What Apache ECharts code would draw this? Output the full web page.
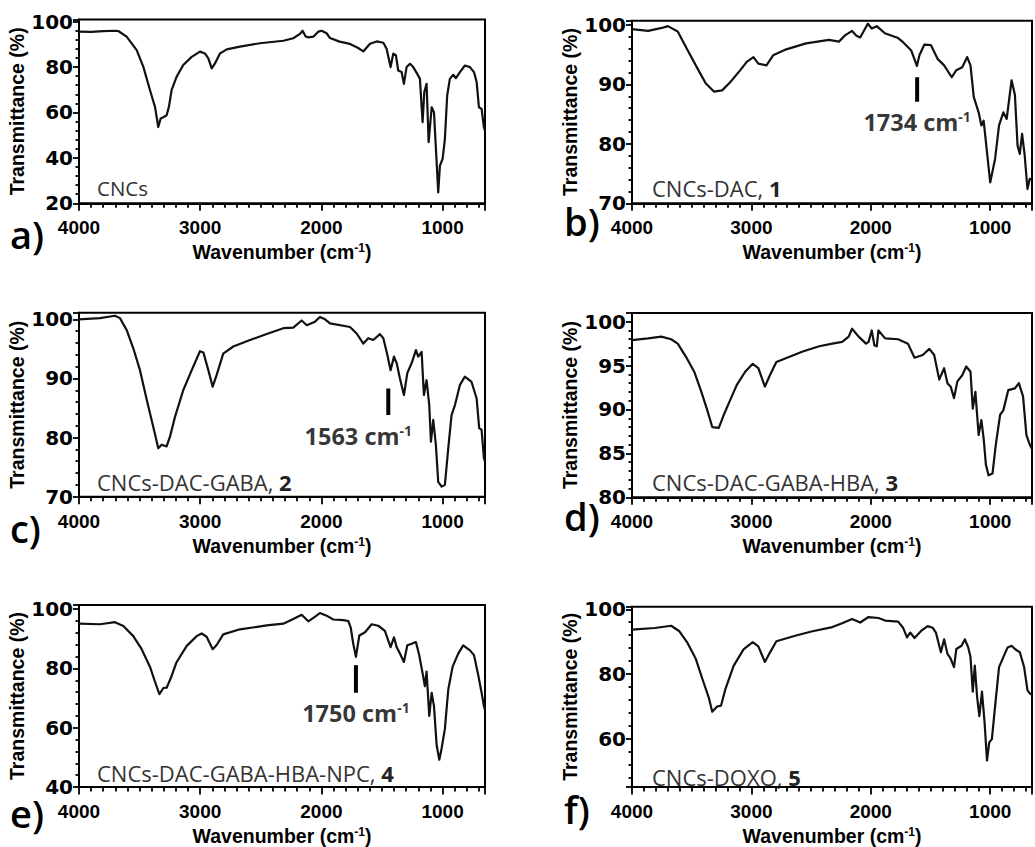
<!DOCTYPE html>
<html><head><meta charset="utf-8">
<script src="https://cdn.jsdelivr.net/npm/echarts@6/dist/echarts.min.js"></script>
<style>html,body{margin:0;padding:0;background:#fff}#c{width:1035px;height:847px}</style>
</head><body><div id="c"></div>
<script>
// ---------- DATA ----------
const xMajorTicks = [1000, 2000, 3000, 4000];

const yMajorA = [20, 40, 60, 80, 100];
const yMajorB = [70, 80, 90, 100];
const yMajorC = [70, 80, 90, 100];
const yMajorD = [80, 85, 90, 95, 100];
const yMajorE = [40, 60, 80, 100];
const yMajorF = [60, 80, 100];

const sampleNames = ['CNCs', 'CNCs-DAC, {b|1}', 'CNCs-DAC-GABA, {b|2}', 'CNCs-DAC-GABA-HBA, {b|3}', 'CNCs-DAC-GABA-HBA-NPC, {b|4}', 'CNCs-DOXO, {b|5}'];
const panelLetters = ['a)', 'b)', 'c)', 'd)', 'e)', 'f)'];

// spectra: [wavenumber (cm-1), transmittance (%)]
const spectrumA = [[4000,95.6],[3900,95.5],[3800,95.8],[3700,96.0],[3676,95.9],[3607,93.4],[3524,87.5],[3469,80.1],[3414,69.8],[3373,62.5],[3346,53.6],[3326,57.4],[3300,58.0],[3277,58.8],[3258,62.5],[3236,69.8],[3195,75.7],[3140,80.9],[3070,84.5],[3002,86.8],[2961,86.0],[2933,83.8],[2905,79.4],[2878,81.6],[2837,86.0],[2781,87.8],[2672,89.0],[2507,90.5],[2314,91.6],[2232,92.7],[2177,94.6],[2155,96.0],[2130,93.5],[2108,93.1],[2067,93.4],[2026,95.6],[1998,96.0],[1957,94.9],[1929,92.8],[1850,91.2],[1764,90.2],[1700,88.5],[1654,86.9],[1599,90.3],[1544,91.3],[1489,90.7],[1462,88.1],[1429,80.0],[1407,85.9],[1385,85.2],[1366,78.5],[1338,77.8],[1319,72.6],[1297,80.0],[1269,81.5],[1242,80.0],[1209,77.0],[1187,74.8],[1165,55.7],[1151,69.0],[1132,72.6],[1115,46.9],[1090,62.3],[1071,60.1],[1049,38.1],[1036,24.8],[1022,36.6],[1000,39.5],[981,48.3],[962,67.5],[940,74.8],[912,76.6],[890,75.1],[857,77.8],[816,80.7],[774,80.0],[741,77.8],[719,73.4],[700,62.3],[678,61.6],[659,53.5],[650,52.0]];
const spectrumB = [[4000,99.3],[3865,99.0],[3750,99.5],[3700,99.8],[3617,98.9],[3535,95.8],[3452,92.7],[3383,90.2],[3314,88.8],[3245,89.0],[3176,90.4],[3093,92.4],[3039,93.8],[2983,94.6],[2942,93.5],[2874,93.2],[2818,94.9],[2708,95.9],[2543,96.9],[2350,97.5],[2267,97.2],[2213,98.3],[2157,99.0],[2120,98.2],[2089,97.9],[2025,100.2],[1992,99.4],[1950,99.8],[1882,98.6],[1841,98.3],[1771,97.8],[1730,97.1],[1661,95.7],[1614,93.1],[1593,94.9],[1551,96.7],[1496,96.6],[1441,94.3],[1386,93.2],[1322,91.2],[1284,92.4],[1234,92.9],[1193,94.6],[1165,93.2],[1138,87.9],[1097,85.3],[1074,83.1],[1055,83.9],[1027,78.6],[1000,73.5],[959,77.5],[926,83.1],[890,85.3],[862,84.2],[821,90.7],[793,88.2],[771,79.7],[752,78.3],[733,81.7],[711,78.0],[688,72.4],[669,74.1],[650,74.0]];
const spectrumC = [[4000,100.0],[3827,100.2],[3703,100.6],[3662,100.2],[3607,98.2],[3552,95.1],[3497,91.4],[3441,86.4],[3387,81.8],[3346,78.2],[3318,78.8],[3277,78.5],[3250,80.1],[3208,83.5],[3140,88.0],[3070,91.4],[3002,94.6],[2974,94.4],[2933,91.4],[2897,88.6],[2864,90.6],[2810,94.2],[2727,95.4],[2589,96.5],[2451,97.5],[2314,98.5],[2232,98.6],[2163,99.8],[2121,99.0],[2053,99.6],[2012,100.4],[1970,100.0],[1929,99.3],[1764,98.7],[1709,97.6],[1654,95.9],[1613,96.8],[1572,96.5],[1517,97.5],[1489,96.8],[1456,94.0],[1429,91.4],[1401,93.7],[1379,92.6],[1352,90.0],[1319,87.2],[1291,90.9],[1255,92.6],[1220,94.8],[1201,93.7],[1173,94.5],[1154,87.2],[1132,89.7],[1110,85.5],[1096,79.3],[1077,83.0],[1055,78.7],[1036,72.5],[1008,71.7],[981,72.0],[953,78.2],[926,83.8],[898,85.5],[857,88.9],[816,90.3],[761,89.4],[719,86.6],[698,81.6],[678,81.3],[659,76.5],[650,76.0]];
const spectrumD = [[4000,97.9],[3865,98.1],[3755,98.3],[3672,98.0],[3617,97.5],[3548,96.0],[3479,94.3],[3424,92.2],[3369,89.9],[3328,88.0],[3273,87.9],[3237,89.2],[3190,90.7],[3122,92.8],[3052,94.3],[2989,95.2],[2942,94.7],[2887,92.6],[2845,93.9],[2791,95.4],[2680,96.0],[2570,96.6],[2432,97.2],[2322,97.5],[2240,97.7],[2185,98.3],[2157,99.2],[2102,98.3],[2040,97.5],[2019,97.7],[1992,99.0],[1970,97.3],[1950,97.2],[1936,99.0],[1880,98.1],[1771,98.0],[1689,97.5],[1634,95.9],[1565,96.2],[1510,96.9],[1469,96.2],[1427,93.4],[1386,94.7],[1358,93.0],[1331,92.6],[1303,91.3],[1275,93.2],[1234,93.9],[1201,94.9],[1165,94.3],[1146,90.1],[1124,92.0],[1097,87.1],[1074,88.8],[1055,86.7],[1036,83.7],[1014,82.5],[981,82.7],[953,86.0],[917,89.4],[890,89.9],[849,92.2],[793,92.4],[760,93.0],[725,91.5],[697,87.1],[669,86.0],[650,85.5]];
const spectrumE = [[4000,95.1],[3827,94.9],[3703,95.6],[3634,94.3],[3552,90.9],[3483,86.5],[3414,80.5],[3373,75.5],[3337,71.3],[3304,73.4],[3277,73.5],[3244,76.6],[3195,82.1],[3111,87.6],[3029,90.9],[2988,91.8],[2947,90.7],[2897,86.5],[2864,87.9],[2810,91.5],[2672,93.2],[2451,94.5],[2314,95.1],[2232,96.7],[2163,98.1],[2108,95.9],[2040,97.8],[2012,98.7],[1957,97.8],[1902,96.5],[1819,96.3],[1778,96.0],[1758,93.8],[1737,88.3],[1715,83.9],[1687,91.1],[1640,92.2],[1585,94.9],[1531,94.4],[1476,92.7],[1429,87.2],[1401,90.5],[1379,87.2],[1346,84.5],[1319,82.2],[1291,87.8],[1255,88.3],[1220,88.9],[1193,84.5],[1160,77.3],[1146,74.0],[1132,78.9],[1110,64.0],[1090,71.8],[1071,67.3],[1049,54.1],[1027,49.2],[1008,53.0],[981,59.6],[953,72.9],[917,80.6],[871,85.0],[830,87.8],[774,86.1],[741,84.5],[706,77.8],[678,71.8],[659,67.3],[650,66.0]];
const spectrumF = [[4000,93.7],[3810,94.2],[3672,94.9],[3603,93.2],[3535,89.6],[3465,84.6],[3411,78.5],[3355,72.4],[3328,68.3],[3287,69.9],[3254,70.2],[3217,75.4],[3149,82.5],[3066,87.6],[2989,89.8],[2942,88.5],[2887,83.7],[2845,86.6],[2791,90.1],[2626,91.9],[2488,93.2],[2322,94.5],[2240,95.7],[2157,97.0],[2089,95.9],[2019,97.6],[1936,97.3],[1880,96.5],[1771,96.2],[1730,94.3],[1697,91.3],[1670,92.8],[1634,91.1],[1579,93.3],[1524,94.8],[1482,94.3],[1455,92.8],[1413,86.7],[1386,90.7],[1358,86.2],[1331,84.7],[1303,82.1],[1284,87.7],[1240,88.7],[1212,90.7],[1184,88.2],[1165,85.2],[1146,74.5],[1129,82.6],[1110,73.0],[1091,66.9],[1069,74.5],[1047,64.9],[1027,53.2],[1008,58.8],[986,59.8],[959,70.0],[926,82.1],[890,85.2],[854,88.2],[821,88.7],[793,87.7],[752,86.7],[716,82.1],[688,75.0],[669,74.0],[650,73.5]];

// band markers: panel index, wavenumber, top and bottom of the bar (%), label text
const markerPanels = [1, 2, 4];
const markerWn = [1612, 1448, 1715];
const markerTop = [91.2, 88.3, 81.1];
const markerBottom = [87.1, 83.8, 71.8];
const markerText = ['1734', '1563', '1750'];

// ---------- LAYOUT / STYLE ----------
const spectra = [spectrumA, spectrumB, spectrumC, spectrumD, spectrumE, spectrumF];
const yMajors = [yMajorA, yMajorB, yMajorC, yMajorD, yMajorE, yMajorF];
const X_MIN = 650, X_MAX = 4000;
const yRanges = [[20, 101], [70, 100.7], [70, 101.1], [80, 101], [40, 101.4], [45, 100.8]];
const grids = [
  {left: 79, top: 19.4, width: 406, height: 183.9},
  {left: 632, top: 20.8, width: 405.5, height: 182.5},
  {left: 79, top: 312.8, width: 406, height: 183.9},
  {left: 632, top: 312.9, width: 405.5, height: 184.4},
  {left: 79, top: 605, width: 406, height: 185.7},
  {left: 632, top: 606.7, width: 405.5, height: 183.3}
];
const letterPos = [[10, 234], [564, 221], [10, 527.5], [564, 516], [10, 813], [564, 809]];
const namePos = [[97, 188], [652, 188], [97, 482], [652, 482], [97, 773], [652, 777]];
const nameSize = [20.5, 22, 22, 22, 22, 22];
const markerLabelOffset = [[0, 0], [-30, 0], [0, 0]];

const AX = 'Liberation Sans, Arial, sans-serif';
const DJ = 'DejaVu Sans, sans-serif';
const CAL = 'Open Sans, Noto Sans, sans-serif';
const tickLine = {color: '#000', width: 1.8};
const xStep = xMajorTicks[1] - xMajorTicks[0];
function onlyValues(list) {
  return function (v) { return list.indexOf(Math.round(v * 1000) / 1000) >= 0 ? String(Math.round(v)) : ''; };
}

const option = {
  animation: false,
  backgroundColor: '#fff',
  grid: [], xAxis: [], yAxis: [], series: [], graphic: []
};

for (let i = 0; i < 6; i++) {
  const yStep = yMajors[i][1] - yMajors[i][0];
  option.grid.push(Object.assign({show: true, borderColor: '#000', borderWidth: 2, containLabel: false}, grids[i]));
  option.xAxis.push({
    gridIndex: i, type: 'value', inverse: true, min: X_MIN, max: X_MAX, position: 'bottom',
    splitNumber: 3, minInterval: xStep, maxInterval: xStep,
    axisLine: {show: true, lineStyle: {color: '#000', width: 2}}, splitLine: {show: false},
    axisTick: {show: true, length: 7.5, lineStyle: tickLine},
    minorTick: {show: true, splitNumber: 10, length: 4.5, lineStyle: tickLine},
    axisLabel: {show: true, formatter: onlyValues(xMajorTicks), margin: 15, fontFamily: AX, fontWeight: 'bold', fontSize: 19, color: '#000'},
    name: 'Wavenumber (cm{s|-1})', nameLocation: 'middle', nameGap: 39,
    nameTextStyle: {fontFamily: AX, fontWeight: 'bold', fontSize: 19.5, color: '#000',
      rich: {s: {fontFamily: AX, fontWeight: 'bold', fontSize: 12, color: '#000', verticalAlign: 'top', lineHeight: 12}}}
  });
  option.yAxis.push({
    gridIndex: i, type: 'value', min: yRanges[i][0], max: yRanges[i][1], position: 'left',
    splitNumber: yMajors[i].length - 1, minInterval: yStep, maxInterval: yStep,
    axisLine: {show: true, lineStyle: {color: '#000', width: 2}}, splitLine: {show: false},
    axisTick: {show: true, length: 6, lineStyle: tickLine},
    minorTick: {show: true, splitNumber: 5, length: 3.5, lineStyle: tickLine},
    axisLabel: {show: true, formatter: onlyValues(yMajors[i]), margin: 6, fontFamily: DJ, fontWeight: 'bold', fontSize: 20, color: '#000'},
    name: 'Transmittance (%)', nameLocation: 'middle', nameGap: 49, nameRotate: 90,
    nameTextStyle: {fontFamily: AX, fontWeight: 'bold', fontSize: 19.5, color: '#000'}
  });
  option.series.push({
    type: 'line', xAxisIndex: i, yAxisIndex: i, data: spectra[i],
    showSymbol: false, symbol: 'none', silent: true, clip: true,
    lineStyle: {color: '#111', width: 2.2, join: 'round'}
  });
  option.graphic.push({
    type: 'text', x: letterPos[i][0], y: letterPos[i][1], silent: true,
    style: {text: panelLetters[i], fontFamily: CAL, fontSize: 38, fontWeight: 600, fill: '#000',
      align: 'left', verticalAlign: 'middle', textAlign: 'left', textVerticalAlign: 'middle'}
  });
  option.graphic.push({
    type: 'text', x: namePos[i][0], y: namePos[i][1], silent: true,
    style: {text: sampleNames[i], fontFamily: CAL, fontSize: nameSize[i], fill: '#333',
      align: 'left', verticalAlign: 'middle', textAlign: 'left', textVerticalAlign: 'middle',
      rich: {b: {fontFamily: CAL, fontSize: nameSize[i], fontWeight: 'bold', fill: '#222'}}}
  });
}

for (let k = 0; k < markerPanels.length; k++) {
  const p = markerPanels[k];
  option.series.push({
    type: 'line', xAxisIndex: p, yAxisIndex: p, showSymbol: false, symbol: 'none', silent: true,
    lineStyle: {color: '#000', width: 4, cap: 'butt'},
    data: [[markerWn[k], markerTop[k]], [markerWn[k], markerBottom[k]]]
  });
  option.series.push({
    type: 'scatter', xAxisIndex: p, yAxisIndex: p, symbolSize: 0, silent: true,
    data: [[markerWn[k], markerBottom[k]]],
    label: {
      show: true, position: 'bottom', distance: 8, offset: markerLabelOffset[k],
      formatter: '{n|' + markerText[k] + ' cm}{s|-1}',
      rich: {
        n: {fontFamily: CAL, fontWeight: 'bold', fontSize: 23.5, color: '#000', lineHeight: 25},
        s: {fontFamily: CAL, fontWeight: 'bold', fontSize: 14, color: '#000', verticalAlign: 'top', lineHeight: 14}
      }
    }
  });
}

const chart = echarts.init(document.getElementById('c'), null, {renderer: 'svg', width: 1035, height: 847});
chart.setOption(option);
</script>
</body></html>
